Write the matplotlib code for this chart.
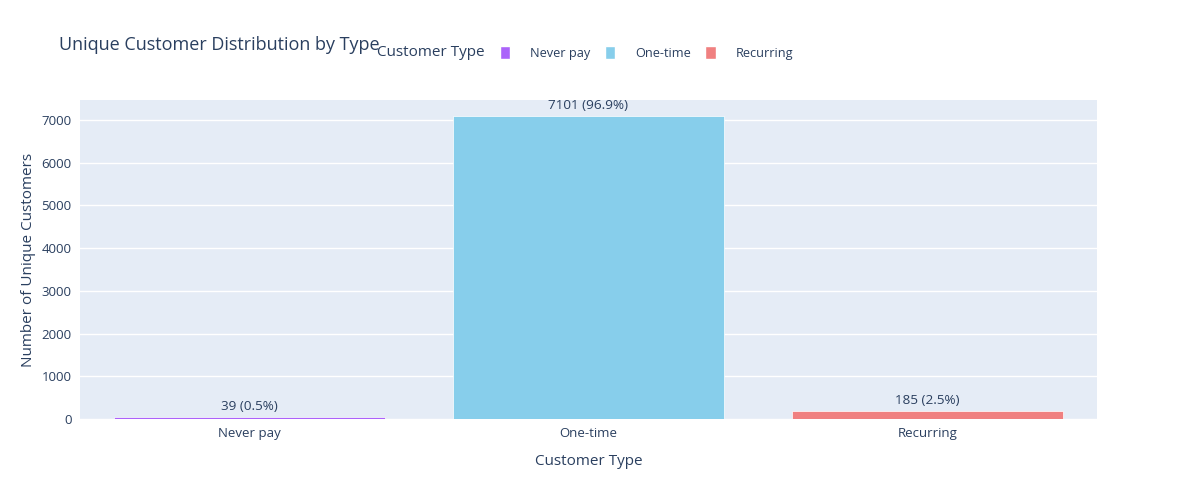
import matplotlib
matplotlib.use("Agg")
import matplotlib.pyplot as plt
from matplotlib.patches import Patch

plt.rcParams['font.family'] = ['Open Sans', 'DejaVu Sans']

customer_types = ["Never pay", "One-time", "Recurring"]
counts = [39, 7101, 185]
percents = [0.5, 96.9, 2.5]
colors = ["#AB63FA", "#87CEEB", "#F08080"]

txt = "#2a3f5f"
fig = plt.figure(figsize=(11.77, 5.0), dpi=100)
ax = fig.add_axes([80 / 1177, 1 - 419 / 500, 1017 / 1177, 319 / 500])
ax.set_facecolor("#E5ECF6")

x = range(len(customer_types))
ax.bar(x, counts, width=0.8, color=colors, edgecolor="white", linewidth=0.5, zorder=3)
for i, (c, p) in enumerate(zip(counts, percents)):
    ax.annotate(f"{c} ({p}%)", (i, c), xytext=(0, 3), textcoords="offset points",
                ha="center", va="bottom", fontsize=9.7, color=txt, zorder=4)

ax.set_xlim(-0.5, 2.5)
ax.set_ylim(0, 7470)
ax.set_yticks(range(0, 7001, 1000))
ax.set_xticks(list(x))
ax.set_xticklabels(customer_types)
ax.grid(axis="y", color="white", linewidth=1, zorder=0)
for s in ax.spines.values():
    s.set_visible(False)
ax.tick_params(length=0, labelsize=9.5, colors=txt, pad=6)
ax.set_xlabel("Customer Type", fontsize=11, color=txt, labelpad=10)
ax.set_ylabel("Number of Unique Customers", fontsize=11, color=txt, labelpad=4)

fig.text(59 / 1177, 1 - 45 / 500, "Unique Customer Distribution by Type",
         fontsize=13, color=txt, va="center", ha="left")

# legend title drawn separately so it sits on the same row as the items
fig.text(377 / 1177, 1 - 52 / 500, "Customer Type", fontsize=11, color=txt,
         va="center", ha="left")
handles = [Patch(facecolor=c, edgecolor="white") for c in colors]
leg = fig.legend(handles, customer_types, ncol=3,
                 loc="center left", bbox_to_anchor=(488 / 1177, 1 - 53 / 500),
                 frameon=False, fontsize=9.2, handlelength=0.8, handleheight=1.1,
                 handletextpad=1.55, columnspacing=1.17)
for t in leg.get_texts():
    t.set_color(txt)

fig.savefig("out.png", dpi=100, facecolor="white")
